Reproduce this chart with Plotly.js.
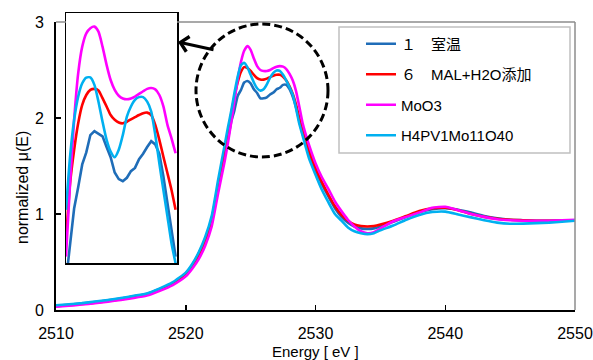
<!DOCTYPE html>
<html><head><meta charset="utf-8">
<script src="https://cdn.plot.ly/plotly-3.0.1.min.js"></script>
<style>html,body{margin:0;padding:0;background:#fff}#chart{width:593px;height:360px}</style>
</head><body><div id="chart"></div>
<script>
// ---- main spectrum (energy in eV) ----
const energy = [2510,2511,2512,2513,2514,2515,2516,2517,2518,2519,2520,2520.5,2521,2521.5,2522,2522.5,
  2523,2523.25,2523.5,2523.75,2524,2524.25,2524.5,2524.75,2525,2525.25,2525.5,2525.75,2526,2526.25,2526.5,2526.75,2527,2527.25,2527.5,2527.75,2528,2528.25,2528.5,2528.75,2529,
  2529.5,2530,2530.5,2531,2531.5,2532,2532.5,2533,2533.5,2534,2534.5,2535,
  2536,2537,2538,2539,2540,2541,2542,2543,2544,2545,2546,2547,2548,2549,2550];
const roomTemp = [0.045,0.055,0.068,0.083,0.100,0.120,0.142,0.166,0.218,0.28,0.38,0.47,0.59,0.74,0.95,1.30,
  1.62,1.78,1.96,2.08,2.23,2.29,2.37,2.385,2.36,2.30,2.26,2.205,2.205,2.215,2.245,2.265,2.30,2.315,2.345,2.345,2.30,2.22,2.11,1.97,1.84,
  1.63,1.46,1.31,1.18,1.06,0.97,0.91,0.87,0.85,0.845,0.85,0.87,
  0.92,0.97,1.02,1.05,1.06,1.045,1.015,0.98,0.955,0.94,0.935,0.93,0.93,0.932,0.935];
const malH2O = [0.040,0.050,0.062,0.076,0.093,0.112,0.133,0.158,0.21,0.27,0.365,0.45,0.56,0.71,0.92,1.28,
  1.66,1.85,2.04,2.22,2.37,2.48,2.53,2.52,2.49,2.45,2.415,2.40,2.40,2.41,2.425,2.44,2.45,2.45,2.43,2.39,2.33,2.25,2.14,2.00,1.87,
  1.66,1.48,1.33,1.20,1.08,0.99,0.93,0.89,0.875,0.87,0.875,0.89,
  0.93,0.98,1.03,1.06,1.065,1.04,1.00,0.97,0.95,0.94,0.935,0.93,0.93,0.93,0.93];
const moO3 = [0.035,0.045,0.057,0.070,0.087,0.105,0.125,0.150,0.200,0.26,0.35,0.43,0.53,0.67,0.87,1.22,
  1.55,1.74,1.95,2.18,2.40,2.58,2.70,2.75,2.71,2.62,2.54,2.50,2.49,2.49,2.50,2.52,2.535,2.54,2.535,2.51,2.46,2.39,2.28,2.12,1.95,
  1.72,1.53,1.38,1.26,1.13,1.03,0.94,0.87,0.82,0.80,0.81,0.85,
  0.925,0.97,1.015,1.065,1.075,1.04,1.00,0.97,0.945,0.935,0.93,0.93,0.93,0.935,0.94];
const hpvMo = [0.050,0.060,0.072,0.088,0.105,0.125,0.148,0.172,0.225,0.29,0.39,0.48,0.60,0.76,0.98,1.36,
  1.72,1.90,2.07,2.26,2.43,2.55,2.575,2.53,2.45,2.37,2.31,2.285,2.30,2.35,2.42,2.47,2.495,2.49,2.45,2.39,2.32,2.24,2.10,1.94,1.82,
  1.58,1.41,1.25,1.12,1.00,0.93,0.86,0.82,0.80,0.79,0.80,0.83,
  0.88,0.94,0.99,1.02,1.025,0.995,0.965,0.935,0.91,0.898,0.90,0.905,0.91,0.92,0.93];

// ---- inset (magnified white-line region) ----
const insetEnergy = [2523.2,2523.4,2523.6,2523.8,2524.0,2524.2,2524.4,2524.6,2524.8,2525.0,2525.2,2525.4,2525.6,2525.8,
  2526.0,2526.2,2526.4,2526.6,2526.8,2527.0,2527.2,2527.4,2527.6,2527.8,2528.0,2528.2,2528.4,2528.6];
const insetRoomTemp = [1.80,1.94,2.07,2.15,2.235,2.28,2.345,2.36,2.35,2.34,2.30,2.262,2.205,2.180,
  2.172,2.185,2.21,2.222,2.255,2.275,2.30,2.322,2.31,2.275,2.19,2.09,1.99,1.89];
const insetMalH2O = [1.952,2.164,2.289,2.389,2.458,2.495,2.514,2.518,2.512,2.483,2.452,2.420,2.402,2.392,
  2.389,2.395,2.404,2.412,2.420,2.427,2.429,2.420,2.383,2.327,2.264,2.202,2.139,2.065];
const insetMoO3 = [1.890,2.164,2.402,2.576,2.676,2.726,2.745,2.751,2.732,2.676,2.608,2.551,2.514,2.492,
  2.482,2.479,2.482,2.489,2.499,2.509,2.518,2.521,2.516,2.495,2.452,2.383,2.333,2.277];
const insetHpvMo = [2.065,2.264,2.402,2.489,2.539,2.560,2.561,2.533,2.470,2.395,2.327,2.283,2.262,2.29,
  2.345,2.414,2.452,2.477,2.487,2.487,2.470,2.433,2.345,2.239,2.139,2.040,1.940,1.865];

const seriesNames = ['１　室温', '６　MAL+H2O添加', 'MoO3', 'H4PV1Mo11O40'];
const seriesColors = ['#1f6db8', '#ff0000', '#ff00ff', '#00b0f0'];
const xTickVals = [2510, 2520, 2530, 2540, 2550];
const yTickVals = [0, 1, 2, 3];

const mainY = [roomTemp, malH2O, moO3, hpvMo];
const insetY = [insetRoomTemp, insetMalH2O, insetMoO3, insetHpvMo];

const FONT = 'Liberation Sans, Arial, Noto Sans CJK JP, sans-serif';
const traces = [];
mainY.forEach((ys, i) => traces.push({
  x: energy, y: ys, type: 'scatter', mode: 'lines', name: seriesNames[i],
  legendgroup: 'g' + i, xaxis: 'x', yaxis: 'y',
  line: {color: seriesColors[i], width: 2.6, shape: 'spline', smoothing: 0.5}
}));
insetY.forEach((ys, i) => traces.push({
  x: insetEnergy, y: ys, type: 'scatter', mode: 'lines', name: seriesNames[i],
  showlegend: false, xaxis: 'x2', yaxis: 'y2',
  line: {color: seriesColors[i], width: 2.6, shape: i === 0 ? 'linear' : 'spline', smoothing: 0.6}
}));

const yTop = 288 / 297;  // main plot top (value 3) in paper units
const layout = {
  width: 593, height: 360,
  margin: {l: 56, r: 18, t: 13, b: 50},
  paper_bgcolor: '#ffffff', plot_bgcolor: '#ffffff',
  font: {family: FONT, size: 15, color: '#000'},
  showlegend: true,
  xaxis: {domain: [0, 1], range: [2510, 2550], tickvals: xTickVals, ticks: 'inside', ticklen: 5,
    tickwidth: 1.5, tickcolor: '#000', showline: true, linecolor: '#000', linewidth: 2,
    showgrid: false, zeroline: false, tickfont: {size: 16}, ticklabelstandoff: 8, anchor: 'y'},
  yaxis: {domain: [0, yTop], range: [0, 3], tickvals: yTickVals, ticks: 'inside', ticklen: 5,
    tickwidth: 1.5, tickcolor: '#000', showline: true, linecolor: '#000', linewidth: 2,
    showgrid: false, zeroline: false, tickfont: {size: 16}, ticklabelstandoff: 7, anchor: 'x'},
  xaxis2: {domain: [10 / 519, 121 / 519], range: [2523.2, 2528.67], anchor: 'y2',
    showticklabels: false, ticks: '', showgrid: false, zeroline: false,
    showline: true, mirror: true, linecolor: '#000', linewidth: 1.5},
  yaxis2: {domain: [47 / 297, 1], range: [1.866, 2.802], anchor: 'x2',
    showticklabels: false, ticks: '', showgrid: false, zeroline: false,
    showline: true, mirror: true, linecolor: '#000', linewidth: 1.5},
  legend: {x: 305 / 519, xanchor: 'left', y: (310 - 27.5) / 297, yanchor: 'top',
    bgcolor: 'rgba(0,0,0,0)', borderwidth: 0, font: {size: 15, family: FONT},
    traceorder: 'grouped', tracegroupgap: 8, itemwidth: 30},
  shapes: [
    {type: 'line', xref: 'paper', yref: 'paper', x0: 0, x1: 10 / 519, y0: yTop, y1: yTop,
      line: {color: '#8c8c8c', width: 1.5}, layer: 'above'},
    {type: 'line', xref: 'paper', yref: 'paper', x0: 121 / 519, x1: 1, y0: yTop, y1: yTop,
      line: {color: '#8c8c8c', width: 1.5}, layer: 'above'},
    {type: 'line', xref: 'paper', yref: 'paper', x0: 1, x1: 1, y0: 0, y1: yTop,
      line: {color: '#8c8c8c', width: 1.5}, layer: 'above'},
    {type: 'rect', xref: 'paper', yref: 'paper', x0: 283 / 519, x1: 514 / 519,
      y0: (310 - 153) / 297, y1: (310 - 27) / 297,
      line: {color: '#c0c0c0', width: 1.5}, fillcolor: '#ffffff', layer: 'below'},
    {type: 'circle', xref: 'paper', yref: 'paper', x0: 140 / 519, x1: 272 / 519,
      y0: (310 - 157) / 297, y1: (310 - 24) / 297,
      line: {color: '#000', width: 3, dash: '8px,4px'}, layer: 'above'}
  ],
  annotations: [
    {xref: 'paper', yref: 'paper', x: 122 / 519, y: (310 - 42) / 297, ax: 37, ay: 8,
      axref: 'pixel', ayref: 'pixel', text: '', showarrow: true, arrowhead: 4, arrowsize: 1,
      arrowwidth: 3, arrowcolor: '#000'},
    {xref: 'paper', yref: 'paper', x: 0.5, y: (310 - 351) / 297, text: 'Energy [ eV ]',
      showarrow: false, font: {size: 15}, xanchor: 'center', yanchor: 'middle'},
    {xref: 'paper', yref: 'paper', x: (22 - 56) / 519, y: (310 - 188) / 297, text: 'normalized μ(E)',
      textangle: -90, showarrow: false, font: {size: 16}, xanchor: 'center', yanchor: 'middle'}
  ]
};
Plotly.newPlot('chart', traces, layout, {staticPlot: true, displayModeBar: false});
</script></body></html>
